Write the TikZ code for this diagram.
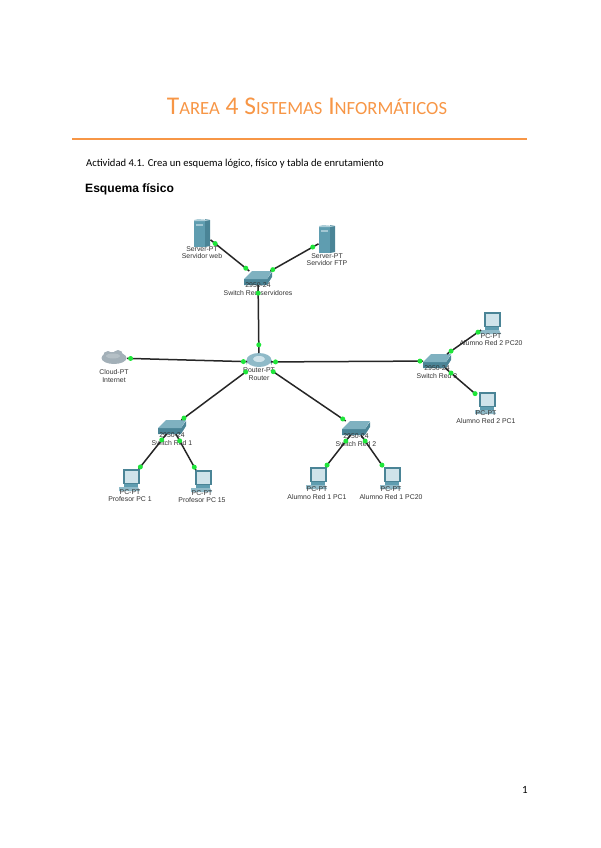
\documentclass[tikz,border=0pt]{standalone}
\usepackage{xcolor}
\usepackage{fontspec}
\setmainfont{Carlito}
\setsansfont{Liberation Sans}
\usetikzlibrary{positioning}
\definecolor{corange}{HTML}{F79646}
\definecolor{cteal}{HTML}{5F9DB0}
\definecolor{cdark}{HTML}{4A8496}
\definecolor{clight}{HTML}{CFE3EA}
\definecolor{cport}{HTML}{1FE63A}
\definecolor{ccloud}{HTML}{A3B0B8}
\newcommand{\smallpart}[1]{{\fontsize{18.6}{30}\selectfont #1}}
\tikzset{
  devbox/.style={inner sep=0pt, outer sep=0pt},
  serverbox/.style={devbox, minimum width=17pt, minimum height=28pt},
  switchbox/.style={devbox, minimum width=28pt, minimum height=14pt},
  routerbox/.style={devbox, minimum width=24pt, minimum height=18pt},
  cloudbox/.style={devbox, minimum width=26pt, minimum height=16pt},
  pcbox/.style={devbox, minimum width=20pt, minimum height=22pt},
  devlabel/.style={inner sep=0pt, align=center, font=\sffamily\fontsize{6.9}{7.8}\selectfont, text=black!80},
  link/.style={line width=1.5pt, color=black!85},
  portdot/.style={circle, fill=cport, inner sep=0pt, minimum size=5pt},
  servericon/.pic={
    \fill[cdark] (3,-14) -- (8,-13) -- (8,13) -- (3,14) -- cycle;
    \fill[cteal] (-8,-13) rectangle (3,14);
    \fill[clight!70!cteal] (-8,-13) -- (-4,-14) -- (8,-13) -- (3,-12) -- (-8,-12) -- cycle;
    \fill[clight!60!cteal] (-6,-9) rectangle (1,-7);
  },
  switchicon/.pic={
    \fill[cdark] (-14,1) -- (9,1) -- (14,-6) -- (14,-1) -- (9,7) -- (-14,7) -- cycle;
    \fill[cteal!80!white] (-14,1) -- (-6,-7) -- (14,-7) -- (9,1) -- cycle;
  },
  routericon/.pic={
    \fill[cdark] (-12.5,-2) -- (-12.5,3) arc[start angle=180, end angle=360, x radius=12.5, y radius=6] -- (12.5,-2) -- cycle;
    \fill[cteal!70!white] (0,-2) ellipse[x radius=12.5, y radius=7];
    \fill[clight] (0,-3) ellipse[x radius=6, y radius=3];
  },
  cloudicon/.pic={
    \fill[ccloud] (0,0) ellipse[x radius=12.5, y radius=6];
    \fill[ccloud] (-6,-2) circle[radius=5];
    \fill[ccloud] (4,-3) circle[radius=5];
    \fill[ccloud!80!white] (-1,-2) ellipse[x radius=7, y radius=2.5];
  },
  pcicon/.pic={
    \fill[cdark] (-7,-11) rectangle (10,4);
    \fill[clight] (-5,-9.5) rectangle (8,2.5);
    \fill[cteal] (-6,4) rectangle (8,7);
    \fill[cteal!70!white] (-11,7) -- (8,7) -- (10,11) -- (-11,11) -- cycle;
  }
}
\begin{document}
\begin{tikzpicture}[x=1pt,y=-1pt]
  \useasboundingbox (0,0) rectangle (600,848);

  % page text
  \node[anchor=base, text=corange, font=\fontsize{25.5}{30}\selectfont] (title) at (307,115)
    {T\smallpart{AREA} 4 S\smallpart{ISTEMAS} I\smallpart{NFORMÁTICOS}};
  \draw[corange, line width=2pt] (72,139) -- (527,139);
  \node[anchor=base west, inner sep=0pt, font=\fontsize{10.6}{12}\selectfont] (task) at (86,166) {Actividad 4.1. Crea un esquema lógico, físico y tabla de enrutamiento};
  \node[anchor=base west, inner sep=0pt, font=\sffamily\bfseries\fontsize{12.1}{14}\selectfont] (head) at (85,192) {Esquema físico};
  \node[anchor=base, inner sep=0pt, font=\fontsize{11}{13}\selectfont] (pagenum) at (525,793) {1};

  % devices
  \node[serverbox] (srvweb) at (202,233) {};
  \node[serverbox] (srvftp) at (327,239) {};
  \node[switchbox] (swsrv) at (258,278) {};
  \node[routerbox] (router) at (259,362) {};
  \node[cloudbox] (cloud) at (114,358) {};
  \node[switchbox] (swone) at (172,427) {};
  \node[switchbox] (swtwo) at (356,428) {};
  \node[switchbox] (swthree) at (437,361) {};
  \node[pcbox] (pcprofa) at (130,480) {};
  \node[pcbox] (pcprofb) at (202,481) {};
  \node[pcbox] (pcalua) at (317,478) {};
  \node[pcbox] (pcalub) at (391,478) {};
  \node[pcbox] (pcaluc) at (491,323) {};
  \node[pcbox] (pcalud) at (486,403) {};

  \pic at (srvweb) {servericon};
  \pic at (srvftp) {servericon};
  \pic at (swsrv) {switchicon};
  \pic at (router) {routericon};
  \pic at (cloud) {cloudicon};
  \pic at (swone) {switchicon};
  \pic at (swtwo) {switchicon};
  \pic at (swthree) {switchicon};
  \pic at (pcprofa) {pcicon};
  \pic at (pcprofb) {pcicon};
  \pic at (pcalua) {pcicon};
  \pic at (pcalub) {pcicon};
  \pic at (pcaluc) {pcicon};
  \pic at (pcalud) {pcicon};

  % labels
  \node[devlabel, below=-1pt of srvweb] (srvwebtxt) {Server-PT\\Servidor web};
  \node[devlabel, below=0pt of srvftp] (srvftptxt) {Server-PT\\Servidor FTP};
  \node[devlabel, below=-2.5pt of swsrv] (swsrvtxt) {2950-24\\Switch Red servidores};
  \node[devlabel, below=-3pt of router] (routertxt) {Router-PT\\Router};
  \node[devlabel, below=3pt of cloud] (cloudtxt) {Cloud-PT\\Internet};
  \node[devlabel, below=-1.5pt of swone] (swonetxt) {2950-24\\Switch Red 1};
  \node[devlabel, below=-1.5pt of swtwo] (swtwotxt) {2950-24\\Switch Red 2};
  \node[devlabel, below=-2.5pt of swthree] (swthreetxt) {2950-24\\Switch Red 3};
  \node[devlabel, below=-2pt of pcprofa] (pcprofatxt) {PC-PT\\Profesor PC 1};
  \node[devlabel, below=-2pt of pcprofb] (pcprofbtxt) {PC-PT\\Profesor PC 15};
  \node[devlabel, below=-2.5pt of pcalua] (pcaluatxt) {PC-PT\\Alumno Red 1 PC1};
  \node[devlabel, below=-2.5pt of pcalub] (pcalubtxt) {PC-PT\\Alumno Red 1 PC20};
  \node[devlabel, below=-1pt of pcaluc] (pcaluctxt) {PC-PT\\Alumno Red 2 PC20};
  \node[devlabel, below=-3.5pt of pcalud] (pcaludtxt) {PC-PT\\Alumno Red 2 PC1};

  % connectors
  \draw[link] (srvweb) -- node[portdot,pos=.12] (pa) {} node[portdot,pos=.91] (pb) {} (swsrv);
  \draw[link] (srvftp) -- node[portdot,pos=.12] (pc) {} node[portdot,pos=.95] (pd) {} (swsrv);
  \draw[link] (swsrv) -- node[portdot,pos=.12] (pe) {} node[portdot,pos=.88] (pf) {} (router);
  \draw[link] (cloud) -- node[portdot,pos=.03] (pg) {} node[portdot,pos=.97] (ph) {} (router);
  \draw[link] (router) -- node[portdot,pos=.02] (pi) {} node[portdot,pos=.96] (pj) {} (swone);
  \draw[link] (swone) -- node[portdot,pos=.17] (pk) {} node[portdot,pos=.94] (pl) {} (pcprofa);
  \draw[link] (swone) -- node[portdot,pos=.19] (pm) {} node[portdot,pos=.92] (pn) {} (pcprofb);
  \draw[link] (router) -- node[portdot,pos=.03] (po) {} node[portdot,pos=.96] (pp) {} (swtwo);
  \draw[link] (swtwo) -- node[portdot,pos=.19] (pq) {} node[portdot,pos=.94] (pr) {} (pcalua);
  \draw[link] (swtwo) -- node[portdot,pos=.19] (ps) {} node[portdot,pos=.94] (pt) {} (pcalub);
  \draw[link] (router) -- node[portdot,pos=.03] (pu) {} node[portdot,pos=.98] (pv) {} (swthree);
  \draw[link] (swthree) -- node[portdot,pos=.12] (pw) {} node[portdot,pos=.91] (px) {} (pcaluc);
  \draw[link] (swthree) -- node[portdot,pos=.19] (py) {} node[portdot,pos=.97] (pz) {} (pcalud);
\end{tikzpicture}
\end{document}
